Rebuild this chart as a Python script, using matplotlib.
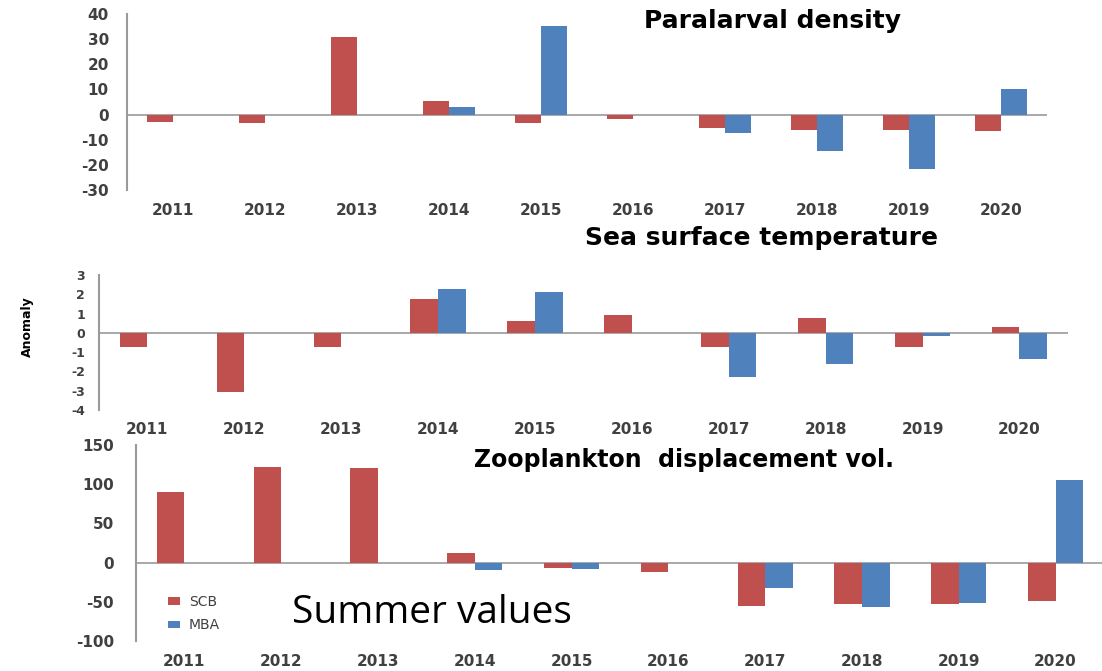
import numpy as np
import matplotlib
matplotlib.use("Agg")
import matplotlib.pyplot as plt

plt.rcParams["axes.unicode_minus"] = False

years = ["2011", "2012", "2013", "2014", "2015", "2016", "2017", "2018", "2019", "2020"]

nan = np.nan
para_scb = [-2.9, -3.3, 30.8, 5.5, -3.3, -1.7, -5.5, -6.0, -6.0, -6.4]
para_mba = [nan, nan, nan, 3.1, 35.3, nan, -7.5, -14.4, -21.7, 10.0]

sst_scb = [-0.76, -3.09, -0.76, 1.73, 0.62, 0.92, -0.73, 0.78, -0.73, 0.28]
sst_mba = [nan, nan, nan, 2.26, 2.12, nan, -2.28, -1.64, -0.17, -1.38]

zoo_scb = [89.7, 122.4, 121.2, 12.3, -6.4, -11.9, -55.3, -53.1, -53.1, -48.5]
zoo_mba = [nan, nan, nan, -9.4, -8.1, nan, -32.7, -57.0, -51.9, 105.4]

RED = "#C0504D"
BLUE = "#4F81BD"
AXIS_GREY = "#9a9a9a"
LABEL_GREY = "#404040"


def draw_panel(ax, scb, mba, ylim, step, ytick_size, ypad):
    x = np.arange(len(years))
    w = 1 / 3.5
    scb_bars = ax.bar(x - w / 2, scb, w, color=RED, label="SCB")
    mba_bars = ax.bar(x + w / 2, mba, w, color=BLUE, label="MBA")

    ax.set_xlim(-0.5, len(years) - 0.5)
    ax.set_ylim(*ylim)
    ax.set_yticks(np.arange(ylim[0], ylim[1] + step, step))
    ax.set_xticks(x)
    ax.set_xticklabels(years)

    # only the value axis and the zero line, like the spreadsheet chart
    for side in ["top", "right", "bottom"]:
        ax.spines[side].set_visible(False)
    ax.spines["left"].set_color(AXIS_GREY)
    ax.spines["left"].set_linewidth(1.5)
    ax.axhline(0, color=AXIS_GREY, lw=1.2, zorder=0)

    ax.tick_params(axis="both", length=0, colors=LABEL_GREY)
    ax.tick_params(axis="y", pad=ypad, labelsize=ytick_size)
    ax.tick_params(axis="x", pad=9, labelsize=11)
    for lab in ax.get_xticklabels() + ax.get_yticklabels():
        lab.set_fontweight("bold")
    ax.set_facecolor("none")
    return scb_bars, mba_bars


fig = plt.figure(figsize=(11.02, 6.71), dpi=100)

# Paralarval density
ax1 = fig.add_axes([0.1152, 0.7168, 0.8348, 0.2623])
draw_panel(ax1, para_scb, para_mba, (-30, 40), 10, 11, 13)
fig.text(0.701, 0.969, "Paralarval density", ha="center", va="center",
         fontsize=18, fontweight="bold")

# Sea surface temperature
ax2 = fig.add_axes([0.0898, 0.389, 0.8793, 0.2012])
draw_panel(ax2, sst_scb, sst_mba, (-4, 3), 1, 9, 10)
fig.text(0.691, 0.645, "Sea surface temperature", ha="center", va="center",
         fontsize=18, fontweight="bold")
fig.text(0.025, 0.513, "Anomaly", ha="center", va="center", rotation=90,
         fontsize=9, fontweight="bold")

# Zooplankton displacement volume
ax3 = fig.add_axes([0.1234, 0.0447, 0.8784, 0.2921])
draw_panel(ax3, zoo_scb, zoo_mba, (-100, 150), 50, 11, 16)
fig.text(0.621, 0.315, "Zooplankton  displacement vol.", ha="center", va="center",
         fontsize=17, fontweight="bold")
ax3.legend(loc="upper left", bbox_to_anchor=(0.02, 0.30), frameon=False,
           fontsize=10, handlelength=0.9, handleheight=0.5, handletextpad=0.6,
           labelspacing=0.7, labelcolor=LABEL_GREY)
fig.text(0.392, 0.087, "Summer values", ha="center", va="center",
         fontsize=28, family=["Open Sans", "DejaVu Sans"])

fig.savefig("out.png", dpi=100)
